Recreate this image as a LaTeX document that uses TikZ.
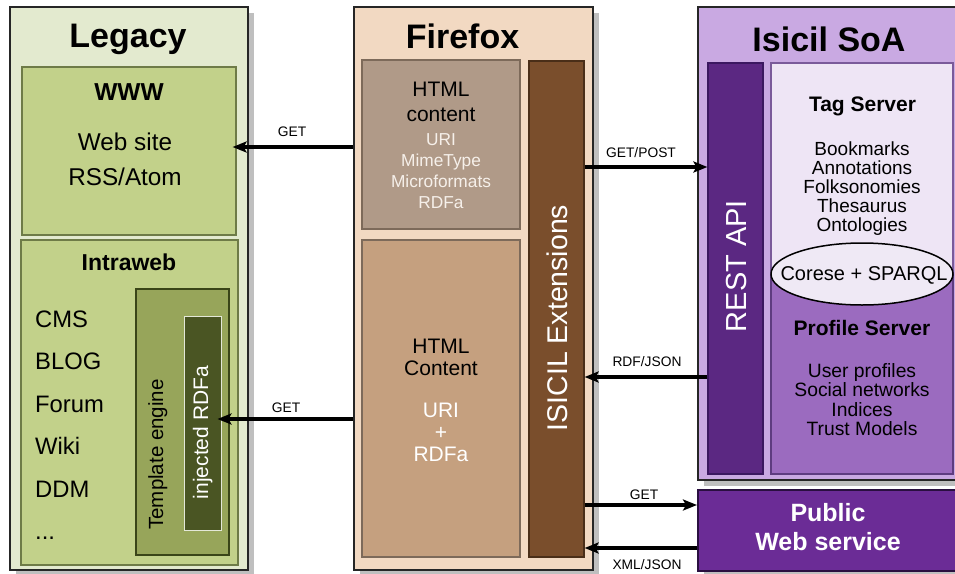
\documentclass[tikz,border=0pt]{standalone}
\usepackage{fontspec}
\setmainfont{Liberation Sans}
\usetikzlibrary{arrows.meta,fit,shadows,shapes.geometric}
\definecolor{legbg}{HTML}{E3EACF}
\definecolor{legin}{HTML}{C2D18A}
\definecolor{leginb}{HTML}{6E7B47}
\definecolor{tmpl}{HTML}{97A55A}
\definecolor{tmplb}{HTML}{3A4518}
\definecolor{rdfa}{HTML}{4A5523}
\definecolor{rdfab}{HTML}{E4E8D8}
\definecolor{ffbg}{HTML}{F2D9C2}
\definecolor{htmla}{HTML}{B09A88}
\definecolor{htmlb}{HTML}{C5A07F}
\definecolor{htmlbd}{HTML}{7D6A5A}
\definecolor{ext}{HTML}{7A4E2C}
\definecolor{extb}{HTML}{4A2E18}
\definecolor{isbg}{HTML}{C9A9E2}
\definecolor{rest}{HTML}{5B2882}
\definecolor{restb}{HTML}{3B1860}
\definecolor{tag}{HTML}{EEE5F5}
\definecolor{tagb}{HTML}{7A5A9A}
\definecolor{prof}{HTML}{9B6BBF}
\definecolor{profb}{HTML}{5E3C80}
\definecolor{pub}{HTML}{6B2C96}
\definecolor{pubb}{HTML}{2A0F40}
\definecolor{ell}{HTML}{EFE9F5}
\definecolor{softw}{HTML}{F6F0EA}
\newcommand\myfs[1]{\fontsize{#1}{#1}\selectfont}
\begin{document}
\begin{tikzpicture}[x=1pt,y=-1pt,
  outer/.style={draw=black!85, line width=2pt, inner sep=0pt,
    drop shadow={shadow xshift=6pt, shadow yshift=-6pt, fill=black!25, opacity=1}},
  box/.style={inner sep=0pt, line width=1.2pt},
  txt/.style={anchor=base, inner sep=0pt},
  rtxt/.style={anchor=base, inner sep=0pt, rotate=90},
  lbl/.style={anchor=base, inner sep=0pt, font=\myfs{13.8}},
  arr/.style={line width=3.2pt, -{Stealth[length=14pt,width=11pt,inset=3pt]}}]
\useasboundingbox (0,0) rectangle (955,573);

% ---------------- Legacy ----------------
\node[outer, fill=legbg, fit={(10,7) (248,570)}] (legacy) {};
\node[box, draw=leginb, fill=legin, fit={(22,67) (236,235)}] (www) {};
\node[box, draw=leginb, fill=legin, fit={(21,240) (238,565)}] (intra) {};
\node[box, draw=tmplb, fill=tmpl, fit={(136,289) (229,555)}] (tmpl) {};
\node[box, line width=0.9pt, draw=rdfab, fill=rdfa, fit={(184,316) (221,530)}] (rdfa) {};
\node[txt, font=\myfs{34}\bfseries] (legt) at (128,47) {Legacy};
\node[txt, font=\myfs{24.5}\bfseries] (wwwt) at (129,100) {WWW};
\node[txt, font=\myfs{24.3}] (wwwa) at (125,150) {Web site};
\node[txt, font=\myfs{24.3}] (wwwb) at (125,185) {RSS/Atom};
\node[txt, font=\myfs{23}\bfseries] (intrat) at (129,270) {Intraweb};
\foreach \t [count=\i] in {CMS,BLOG,Forum,Wiki,DDM}
  \node[txt, anchor=base west, font=\myfs{23.8}] (intra\i) at (35,{327+42.5*(\i-1)}) {\t};
\node[txt, anchor=base west, font=\myfs{23.8}] (intra6) at (35,539.5) {...};
\node[rtxt, font=\myfs{20.5}] (tmplt) at (163,454.5) {Template engine};
\node[rtxt, font=\myfs{21}, text=white] (rdfat) at (208,432.5) {injected RDFa};

% ---------------- Firefox ----------------
\node[outer, fill=ffbg, fit={(354,7) (593,570)}] (ff) {};
\node[box, draw=htmlbd, fill=htmla, fit={(362,60) (520,229)}] (htmla) {};
\node[box, draw=htmlbd, fill=htmlb, fit={(362,240) (520,557)}] (htmlb) {};
\node[box, draw=extb, fill=ext, fit={(529,61) (584,557)}] (ext) {};
\node[txt, font=\myfs{34}\bfseries] (fft) at (462.5,48) {Firefox};
\node[txt, font=\myfs{21}] (ha1) at (441,96.7) {HTML};
\node[txt, font=\myfs{21}] (ha2) at (441,121.7) {content};
\foreach \t [count=\i] in {URI,MimeType,Microformats,RDFa}
  \node[txt, font=\myfs{17.3}, text=softw] (hal\i) at (441,{145+21.1*(\i-1)}) {\t};
\node[txt, font=\myfs{21}] (hb1) at (441,353.3) {HTML};
\node[txt, font=\myfs{21}] (hb2) at (441,375) {Content};
\node[txt, font=\myfs{21}, text=white] (hb3) at (441,417.3) {URI};
\node[txt, font=\myfs{21}, text=white] (hb4) at (441,439.5) {+};
\node[txt, font=\myfs{21}, text=white] (hb5) at (441,461.7) {RDFa};
\node[rtxt, font=\myfs{28.5}, text=white] (extt) at (567.7,318) {ISICIL Extensions};

% ---------------- Isicil SoA ----------------
\node[outer, fill=isbg, fit={(698,7) (962,480)}] (soa) {};
\node[box, draw=restb, fill=rest, fit={(708,63) (763,474)}] (rest) {};
\node[box, draw=tagb, fill=tag, fit={(771,63) (953,275)}] (tag) {};
\node[box, draw=profb, fill=prof, fit={(771,275) (953,474)}] (prof) {};
\node[draw=black, line width=1.5pt, fill=ell, ellipse, inner sep=0pt,
      minimum width=182pt, minimum height=62pt] (corese) at (862,274) {};
\node[txt, font=\myfs{34}\bfseries] (soat) at (829,51.5) {Isicil SoA};
\node[rtxt, font=\myfs{29}, text=white] (restt) at (746,266) {REST API};
\node[txt, font=\myfs{21}\bfseries] (tagt) at (862.5,111.7) {Tag Server};
\foreach \t [count=\i] in {Bookmarks,Annotations,Folksonomies,Thesaurus,Ontologies}
  \node[txt, font=\myfs{19}] (tag\i) at (862,{155+19.2*(\i-1)}) {\t};
\node[txt, font=\myfs{20}] (coreset) at (864,280) {Corese + SPARQL};
\node[txt, font=\myfs{21}\bfseries] (proft) at (862,335) {Profile Server};
\foreach \t [count=\i] in {User profiles,Social networks,Indices,Trust Models}
  \node[txt, font=\myfs{19.3}] (prof\i) at (862,{377+19.55*(\i-1)}) {\t};

% ---------------- Public web service ----------------
\node[outer, draw=pubb, fill=pub, fit={(698,490) (962,571)}] (pub) {};
\node[txt, font=\myfs{25}\bfseries, text=white] (pubt1) at (828,521.7) {Public};
\node[txt, font=\myfs{25}\bfseries, text=white] (pubt2) at (828,550) {Web service};

% ---------------- connectors ----------------
\coordinate (y1) at (0,147);
\coordinate (y2) at (0,419);
\coordinate (y3) at (0,167);
\coordinate (y4) at (0,377);
\coordinate (y5) at (0,505);
\coordinate (y6) at (0,548);
\draw[arr] (ff.west |- y1) -- ([xshift=-4pt]www.east |- y1);
\draw[arr] (ff.west |- y2) -- ([xshift=-4pt]rdfa.east |- y2);
\draw[arr] (ext.east |- y3) -- (rest.west |- y3);
\draw[arr] (rest.west |- y4) -- (ext.east |- y4);
\draw[arr] (ext.east |- y5) -- (pub.west |- y5);
\draw[arr] (pub.west |- y6) -- (ext.east |- y6);
\node[lbl] (l1) at (292,136) {GET};
\node[lbl] (l2) at (286,412) {GET};
\node[lbl] (l3) at (641,157) {GET/POST};
\node[lbl] (l4) at (647,366) {RDF/JSON};
\node[lbl] (l5) at (644,499) {GET};
\node[lbl] (l6) at (647,569) {XML/JSON};
\end{tikzpicture}
\end{document}
